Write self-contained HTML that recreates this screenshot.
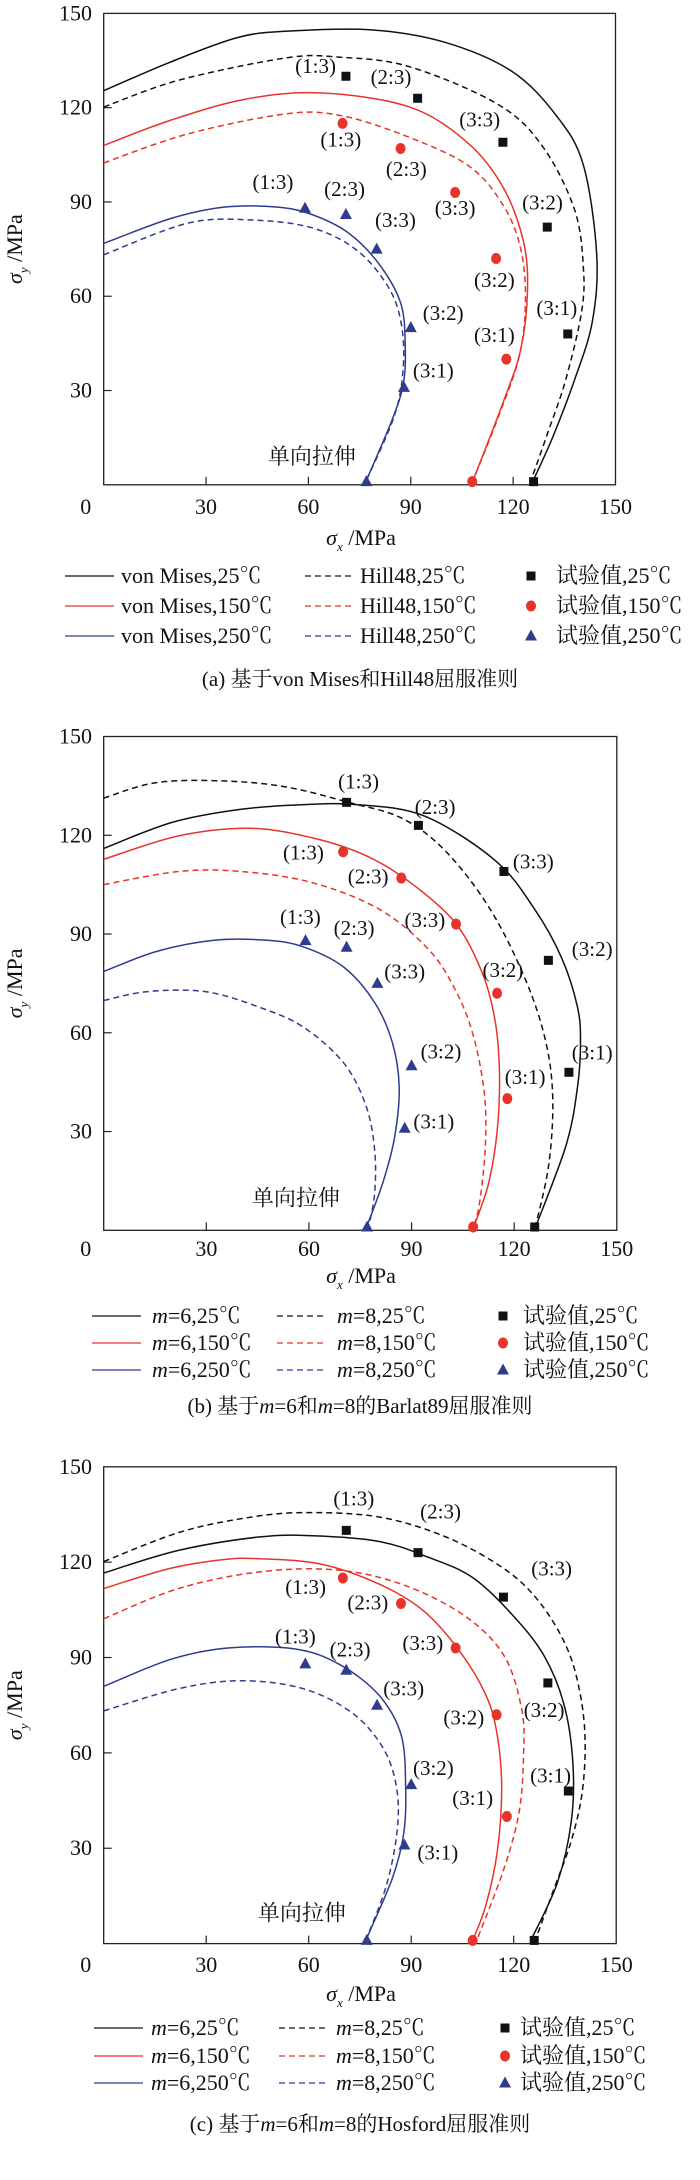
<!DOCTYPE html>
<html><head><meta charset="utf-8">
<style>
html,body{margin:0;padding:0;background:#fff;}
svg{display:block;}
text{font-family:"Liberation Serif","Noto Serif CJK SC",serif;fill:#111;}
</style></head>
<body>
<svg id="fig" width="700" height="2180" viewBox="0 0 700 2180" xmlns="http://www.w3.org/2000/svg"></svg>
<script>
// ---------- data ----------
const xTicks = [0,30,60,90,120,150];
const yTicks = [30,60,90,120,150];
const ratioLabels = ["(1:3)","(2:3)","(3:3)","(3:2)","(3:1)"];
const exp25x = [71,92,117,130,136,126];
const exp25y = [130,123,109,82,48,1];
const exp150x = [70,87,103,115,118,108];
const exp150y = [115,107,93,72,40,1];
const exp250x = [59,71,80,90,88,77];
const exp250y = [88,86,75,50,31,1];

const aVM25x = [0,19.3,38.9,53.2,78,100,119.7,132.8,140.6,144.5,143.2,138,131.5,125.6];
const aVM25y = [125.4,134.4,142.2,144.3,144.8,140.8,131.5,117.3,101.7,73.2,51.9,33.4,14.9,0.7];
const aH25x = [0,21.9,53.2,68.9,89.7,115.8,128.8,138,140.6,140,135.4,130.1,125];
const aH25y = [120.2,128.7,135.8,136.1,133,120.9,107.4,87.5,69,54.7,33.4,16.4,0.7];
const aVM150x = [0,19.3,41.5,63.6,89.7,106.7,117.1,123,124.2,122.3,117.1,108];
const aVM150y = [108,115.9,122.7,124.7,120.2,108.8,94.6,77.5,61.9,43.4,26.3,0.7];
const aH150x = [0,24.5,53.2,68.9,87.1,106.7,117.1,122.3,123.6,121.7,115.8,108];
const aH150y = [102.4,111.6,118,117.6,111.6,101.7,88.9,74.7,57.6,40.5,22,0.7];
const aVM250x = [0,19.3,35,50.6,61,71.5,80.6,87.1,88.4,87.8,84.5,76.7];
const aVM250y = [76.8,84.6,88.3,88.4,86,80.3,70.4,57.6,43.4,32,20.6,0.7];
const aH250x = [0,24.5,42.8,61,74.1,83.2,87.1,87.8,85.2,76.7];
const aH250y = [73.2,83.2,84.3,81.8,74.7,63.3,51.9,37.7,22,0.7];

const bM6t25x = [0,20,40.2,58.4,74,93.6,114.4,126,133.9,138.5,139.4,138.5,135.2,126];
const bM6t25y = [116,123.9,127.9,129.3,129.3,125.9,112.4,97.5,82.7,67.8,57,43.5,25.9,0.3];
const bM8t25x = [0,15.4,34.9,53.2,71.5,87.1,100,113,123.4,129.3,131.3,130,126];
const bM8t25y = [131.3,136,136.5,134.7,130,125.2,115.1,97.5,75.9,57,39.4,19.2,0.3];
const bM6t150x = [0,21.9,42.8,61,76.7,89.7,102.7,110.5,114.4,115.7,115,112.4,107.9];
const bM6t150y = [112.7,119.8,122.1,119.2,113.8,105.6,93.5,78.6,63.8,47.6,30,13.8,0.3];
const bM8t150x = [0,21.9,40.2,61,80.6,94.9,102.7,107.9,111.2,111.6,109.9,107.9];
const bM8t150y = [105,109,109,105.6,97.5,85.4,73.2,59.7,42.2,25.9,8.4,0.3];
const bM6t250x = [0,15.4,32.3,47.9,58.4,70.1,79.2,84.4,86.4,85.1,81.8,76.6];
const bM6t250y = [78.6,84.7,88.1,88.1,86.1,80,69.2,57,43.5,28.6,15.1,0.3];
const bM8t250x = [0,12.8,29.7,45.4,58.4,70.1,76.6,79.2,79.2,77.3];
const bM8t250y = [69.8,72.5,72.5,67.8,61.7,50.9,38.1,24.6,11.1,0.3];

const cM6t25x = [0,21.9,45.4,61,80.6,94.9,107.9,119.7,128.8,134.7,137.3,136.9,132.8,125];
const cM6t25y = [116.6,123.7,127.9,128.3,126.5,121.6,115.2,103.3,90.7,75.3,57.1,38.8,19.2,1];
const cM8t25x = [0,21.9,41.5,58.4,80.6,100.2,117.1,127.5,135.4,139.3,140.9,140,136.7,131.5,126.3];
const cM8t25y = [120.2,129.3,133.9,135.6,134.2,127.9,118,107.5,93.5,79.5,64.1,47.2,31.8,16.4,1];
const cM6t150x = [0,19.3,35,45.4,63.6,80.6,93.6,104.1,111.9,115.2,116.5,115.2,111.9,108];
const cM6t150y = [111.7,118,120.8,121.1,119.4,113.1,104.7,92.1,78.1,65.5,48.6,29,12.2,1];
const cM8t150x = [0,21.9,45.4,67.6,87.1,105.4,117.1,122.3,122.9,121.6,117.1,109.2];
const cM8t150y = [102.2,111.7,116.9,117.6,113.1,103.3,90.7,73.9,59.9,41.6,23.4,1];
const cM6t250x = [0,19.3,36.3,55.9,68.9,80.6,87.1,88.4,87.8,84.5,76.7];
const cM6t250y = [80.9,89.3,93,92.7,87.9,78.1,65.5,48.6,34.6,20.6,1];
const cM8t250x = [0,21.9,40.2,58.4,72.8,81.9,85.8,85.8,82.6,76.7];
const cM8t250y = [73.2,80.2,82.7,80.2,72.5,61.3,48.6,34.6,17.8,1];

const aLab25x=[62.1,84.2,110.2,128.6,132.8], aLab25y=[133.2,129.8,116.2,89.9,56.2];
const aLab150x=[69.5,88.7,103,114.5,114.5], aLab150y=[109.8,100.5,88,65.1,47.6];
const aLab250x=[49.6,70.6,85.5,99.5,96.6], aLab250y=[96.3,94.1,84.2,54.7,36.3];
const bLab25x=[74.5,96.9,125.6,142.8,142.8], bLab25y=[136.3,128.6,112,85.4,54];
const bLab150x=[58.4,77.3,93.9,116.7,123.2], bLab150y=[114.8,107.4,94.2,79,46.6];
const bLab250x=[57.5,73.2,88,98.6,96.5], bLab250y=[95.2,91.9,78.6,54.3,33.1];
const cLab25x=[73.2,98.6,131.1,128.9,130.8], cLab25y=[140,135.9,118,73.5,52.9];
const cLab150x=[59.1,77.3,93.4,105.4,108], cLab150y=[112.2,107.3,94.6,71.1,45.8];
const cLab250x=[56.1,72.1,87.8,96.5,97.8], cLab250y=[96.6,92.5,80.2,55.2,28.6];

// ---------- drawing ----------
const NS="http://www.w3.org/2000/svg";
const svg=document.getElementById('fig');
const BLACK="#111", RED="#e8332b", BLUE="#2f3c8e";
function mk(tag,attrs,parent){const e=document.createElementNS(NS,tag);for(const k in attrs)e.setAttribute(k,attrs[k]);(parent||svg).appendChild(e);return e;}
function smooth(pts){
  let d='M'+pts[0][0].toFixed(1)+','+pts[0][1].toFixed(1);
  for(let i=0;i<pts.length-1;i++){
    const p0=pts[Math.max(i-1,0)],p1=pts[i],p2=pts[i+1],p3=pts[Math.min(i+2,pts.length-1)];
    const c1=[p1[0]+(p2[0]-p0[0])/6,p1[1]+(p2[1]-p0[1])/6];
    const c2=[p2[0]-(p3[0]-p1[0])/6,p2[1]-(p3[1]-p1[1])/6];
    d+=' C'+c1[0].toFixed(1)+','+c1[1].toFixed(1)+' '+c2[0].toFixed(1)+','+c2[1].toFixed(1)+' '+p2[0].toFixed(1)+','+p2[1].toFixed(1);
  }
  return d;
}

function panel(P){
  const g=mk('g',{});
  
  
  const sx=v=>P.L+(P.R-P.L)*v/150;
  const sy=v=>P.B-(P.B-P.T)*v/150;
  const frame=mk('rect',{x:P.L,y:P.T,width:P.R-P.L,height:P.B-P.T,fill:'none',stroke:'#222','stroke-width':1.3},g);
  
  
  xTicks.forEach(v=>{
    if(v>0&&v<150){const t=mk('line',{x1:sx(v),x2:sx(v),y1:P.B,y2:P.B-8,stroke:'#222','stroke-width':1.2},g);
      
      }
    const tl=mk('text',{x:sx(v)-(v===0?18:0),y:P.xly,'font-size':22,'text-anchor':'middle'},g);
    tl.textContent=v;
    
    
  });
  yTicks.forEach(v=>{
    if(v<150){const t=mk('line',{x1:P.L,x2:P.L+8,y1:sy(v),y2:sy(v),stroke:'#222','stroke-width':1.2},g);
      
      }
    const tl=mk('text',{x:92,y:sy(v)+7,'font-size':22,'text-anchor':'end'},g);
    tl.textContent=v;
    
    
  });
  const xt=mk('text',{x:361,y:P.xty,'font-size':22,'text-anchor':'middle'},g);
  xt.innerHTML='<tspan font-style="italic">σ</tspan><tspan font-style="italic" font-size="13" dy="6">x</tspan><tspan dy="-6"> /MPa</tspan>';
  
  
  const ym=(P.T+P.B)/2;
  const yt=mk('text',{x:0,y:0,'font-size':22,'text-anchor':'middle',transform:`translate(22,${ym}) rotate(-90)`},g);
  yt.innerHTML='<tspan font-style="italic">σ</tspan><tspan font-style="italic" font-size="13" dy="6">y</tspan><tspan dy="-6"> /MPa</tspan>';
  
  
  P.curves.forEach(c=>{
    const pts=c.x.map((v,i)=>[sx(v),sy(c.y[i])]);
    const p=mk('path',{d:smooth(pts),fill:'none',stroke:c.col,'stroke-width':1.5,'stroke-dasharray':c.dash?'6,4':'none','stroke-linejoin':'round'},g);
    
    
  });
  const ut=mk('text',{x:sx(P.uni[0]),y:sy(P.uni[1])+8,'font-size':22,'text-anchor':'middle'},g);
  ut.textContent='单向拉伸';
  
  
  const sets=[[exp25x,exp25y,'sq',BLACK,P.lab[0],'25c'],[exp150x,exp150y,'ci',RED,P.lab[1],'150c'],[exp250x,exp250y,'tr',BLUE,P.lab[2],'250c']];
  sets.forEach(s=>{
    s[0].forEach((v,i)=>{
      const X=sx(v),Y=sy(s[1][i]);let m;
      if(s[2]==='sq')m=mk('rect',{x:X-4.5,y:Y-4.5,width:9,height:9,fill:s[3]},g);
      else if(s[2]==='ci')m=mk('ellipse',{cx:X,cy:Y,rx:5,ry:5.5,fill:s[3]},g);
      else m=mk('polygon',{points:`${X},${Y-6.5} ${X-6},${Y+4.5} ${X+6},${Y+4.5}`,fill:s[3]},g);
      
      
    });
    s[4][0].forEach((v,i)=>{
      const t=mk('text',{x:sx(v),y:sy(s[4][1][i])+7,'font-size':21,'text-anchor':'middle'},g);
      t.textContent=ratioLabels[i];
      
      
    });
  });
  const Lg=P.leg;
  const cols=[BLACK,RED,BLUE], temps=['25℃','150℃','250℃'];
  for(let r=0;r<3;r++){
    const y=Lg.rows[r];
    const l1=mk('line',{x1:Lg.l1[0],x2:Lg.l1[1],y1:y,y2:y,stroke:cols[r],'stroke-width':1.3},g);
    
    
    const t1=mk('text',{x:Lg.t1,y:y+7,'font-size':22},g);
    t1.innerHTML=Lg.s1+','+temps[r];
    
    
    const l2=mk('line',{x1:Lg.l2[0],x2:Lg.l2[1],y1:y,y2:y,stroke:cols[r],'stroke-width':1.3,'stroke-dasharray':'6,4'},g);
    
    
    const t2=mk('text',{x:Lg.t2,y:y+7,'font-size':22},g);
    t2.innerHTML=Lg.s2+','+temps[r];
    
    
    const X=Lg.mk,Y=y;let m;
    if(r===0)m=mk('rect',{x:X-4.5,y:Y-4.5,width:9,height:9,fill:cols[r]},g);
    else if(r===1)m=mk('ellipse',{cx:X,cy:Y,rx:5,ry:5.5,fill:cols[r]},g);
    else m=mk('polygon',{points:`${X},${Y-6.5} ${X-6},${Y+4.5} ${X+6},${Y+4.5}`,fill:cols[r]},g);
    
    
    const t3=mk('text',{x:Lg.t3,y:y+7,'font-size':22},g);
    t3.textContent='试验值,'+temps[r];
    
    
  }
  const cap=mk('text',{x:360,y:P.capy,'font-size':21,'text-anchor':'middle'},g);
  cap.innerHTML=P.cap;
  
  
}

const mI='<tspan font-style="italic">m</tspan>';
panel({id:'a',L:103.7,R:615.5,T:13.4,B:484.8,xly:514,xty:545,uni:[61,9.2],
  lab:[[aLab25x,aLab25y],[aLab150x,aLab150y],[aLab250x,aLab250y]],
  curves:[{x:aVM25x,y:aVM25y,col:BLACK,name:'von-mises-25c'},{x:aH25x,y:aH25y,col:BLACK,dash:1,name:'hill48-25c'},
    {x:aVM150x,y:aVM150y,col:RED,name:'von-mises-150c'},{x:aH150x,y:aH150y,col:RED,dash:1,name:'hill48-150c'},
    {x:aVM250x,y:aVM250y,col:BLUE,name:'von-mises-250c'},{x:aH250x,y:aH250y,col:BLUE,dash:1,name:'hill48-250c'}],
  leg:{rows:[576,606,636],l1:[65,114],t1:121,l2:[305,353],t2:360,s1:'von Mises',s2:'Hill48',mk:531,t3:556},
  capy:686,cap:'(a) 基于von Mises和Hill48屈服准则'});
panel({id:'b',L:103.7,R:616.8,T:736.5,B:1230.3,xly:1256,xty:1283,uni:[56.2,10],
  lab:[[bLab25x,bLab25y],[bLab150x,bLab150y],[bLab250x,bLab250y]],
  curves:[{x:bM6t25x,y:bM6t25y,col:BLACK,name:'barlat-m6-25c'},{x:bM8t25x,y:bM8t25y,col:BLACK,dash:1,name:'barlat-m8-25c'},
    {x:bM6t150x,y:bM6t150y,col:RED,name:'barlat-m6-150c'},{x:bM8t150x,y:bM8t150y,col:RED,dash:1,name:'barlat-m8-150c'},
    {x:bM6t250x,y:bM6t250y,col:BLUE,name:'barlat-m6-250c'},{x:bM8t250x,y:bM8t250y,col:BLUE,dash:1,name:'barlat-m8-250c'}],
  leg:{rows:[1316,1343,1370],l1:[92,141],t1:152,l2:[277,324],t2:337,s1:mI+'=6',s2:mI+'=8',mk:503,t3:523},
  capy:1413,cap:'(b) 基于'+mI+'=6和'+mI+'=8的Barlat89屈服准则'});
panel({id:'c',L:103.7,R:616.2,T:1466.8,B:1943.6,xly:1972,xty:2001,uni:[58,9.8],
  lab:[[cLab25x,cLab25y],[cLab150x,cLab150y],[cLab250x,cLab250y]],
  curves:[{x:cM6t25x,y:cM6t25y,col:BLACK,name:'hosford-m6-25c'},{x:cM8t25x,y:cM8t25y,col:BLACK,dash:1,name:'hosford-m8-25c'},
    {x:cM6t150x,y:cM6t150y,col:RED,name:'hosford-m6-150c'},{x:cM8t150x,y:cM8t150y,col:RED,dash:1,name:'hosford-m8-150c'},
    {x:cM6t250x,y:cM6t250y,col:BLUE,name:'hosford-m6-250c'},{x:cM8t250x,y:cM8t250y,col:BLUE,dash:1,name:'hosford-m8-250c'}],
  leg:{rows:[2028,2056,2083],l1:[94,143],t1:151,l2:[279,326],t2:336,s1:mI+'=6',s2:mI+'=8',mk:505,t3:520},
  capy:2131,cap:'(c) 基于'+mI+'=6和'+mI+'=8的Hosford屈服准则'});
</script>
</body></html>
